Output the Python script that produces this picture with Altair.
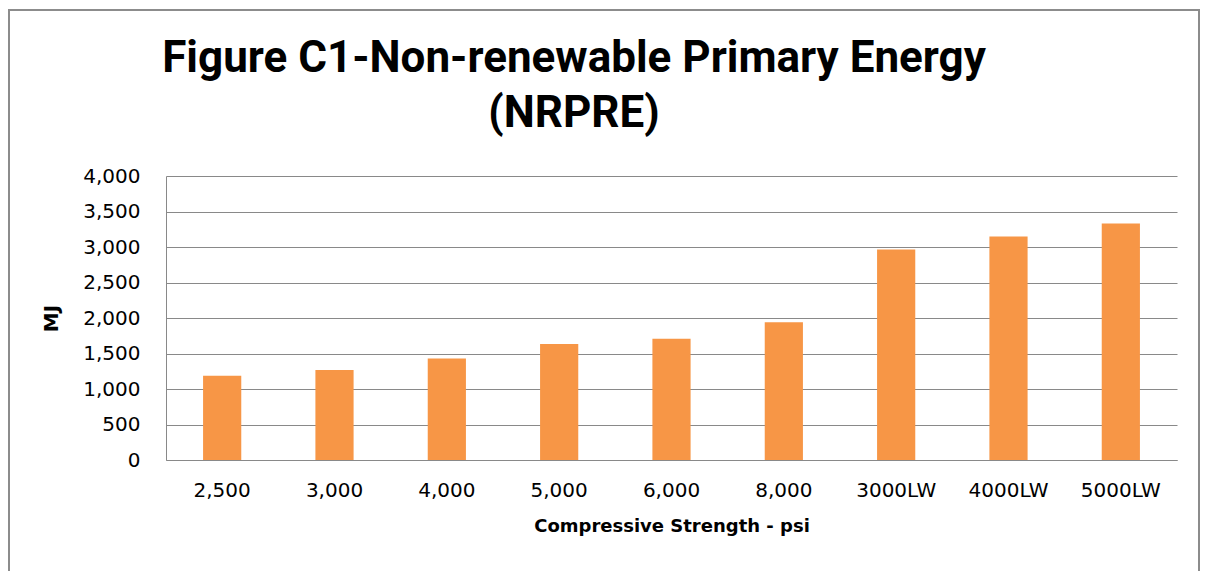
import altair as alt
import pandas as pd

categories = ["2,500", "3,000", "4,000", "5,000", "6,000", "8,000", "3000LW", "4000LW", "5000LW"]
values = [1186, 1266, 1431, 1633, 1708, 1939, 2964, 3147, 3331]
y_ticks = [0, 500, 1000, 1500, 2000, 2500, 3000, 3500, 4000]

title_line1 = ["Figure C1-Non-renewable Primary Energy"]
title_line2 = ["(NRPRE)"]
x_title = "Compressive Strength - psi"
y_title = "MJ"

df = pd.DataFrame({"cat": categories, "val": values})

GRID = "#898989"
FONT = "DejaVu Sans"
TFONT = "Roboto"

bars = alt.Chart(df).mark_bar(color="#F79646").encode(
    x=alt.X(
        "cat:N",
        sort=categories,
        scale=alt.Scale(paddingInner=0.66, paddingOuter=0.33),
        axis=alt.Axis(
            title=x_title, labelAngle=0, ticks=False, domainColor=GRID,
            labelFont=FONT, labelFontSize=20, labelColor="#000000", labelPadding=20,
            titleFont=FONT, titleFontSize=18, titleFontWeight="bold", titleColor="#000000",
            titlePadding=17,
        ),
    ),
    y=alt.Y(
        "val:Q",
        scale=alt.Scale(domain=[0, 4000], nice=False),
        axis=alt.Axis(
            values=y_ticks, format=",d", title=y_title, ticks=False, domainColor=GRID,
            gridColor=GRID, gridWidth=1, gridOpacity=1,
            labelFont=FONT, labelFontSize=20, labelColor="#000000", labelPadding=26,
            titleFont=FONT, titleFontSize=20, titleFontWeight="bold", titleColor="#000000",
            titlePadding=21,
        ),
    ),
)

border = alt.Chart(pd.DataFrame({"a": [0]})).mark_rect(
    fill="white", fillOpacity=0, stroke="#8c8c8c", strokeWidth=2
).encode(
    x=alt.value(-157), x2=alt.value(1033), y=alt.value(-166), y2=alt.value(420)
)

t1 = alt.Chart(pd.DataFrame({"t": title_line1})).mark_text(
    font=TFONT, fontSize=44, fontWeight="bold", color="#000000",
    align="center", baseline="alphabetic"
).encode(text="t:N", x=alt.value(408), y=alt.value(-104))

t2 = alt.Chart(pd.DataFrame({"t": title_line2})).mark_text(
    font=TFONT, fontSize=44, fontWeight="bold", color="#000000",
    align="center", baseline="alphabetic"
).encode(text="t:N", x=alt.value(408), y=alt.value(-49))

chart = alt.layer(border, bars, t1, t2).properties(
    width=1011,
    height=284,
    autosize=alt.AutoSizeParams(type="none"),
    padding={"left": 158, "top": 168, "right": 24, "bottom": 111},
).configure_view(strokeWidth=0)

chart.save("out.html", embed_options={"renderer": "svg", "actions": False})
